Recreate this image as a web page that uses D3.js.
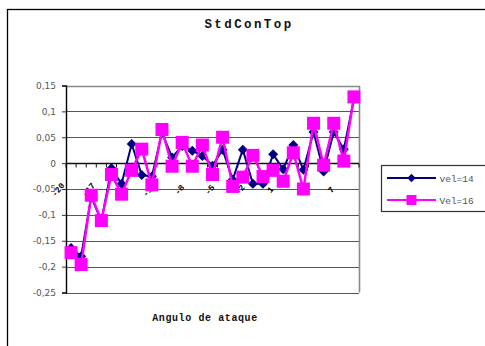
<!DOCTYPE html>
<html>
<head>
<meta charset="utf-8">
<script src="https://cdn.jsdelivr.net/npm/d3@7"></script>
<style>
  html, body { margin: 0; padding: 0; background: #fff; }
  svg { display: block; }
</style>
</head>
<body>
<svg id="chart" width="485" height="346"></svg>
<script>
// Angle of attack categories (degrees)
const angles = [-20, -19, -18, -17, -16, -15, -14, -13, -12, -11, -10, -9, -8, -7, -6,
                -5, -4, -3, -2, -1, 0, 1, 2, 3, 4, 5, 6, 7, 8];

// Std coefficient series
const vel14 = [-0.164, -0.180, -0.065, -0.112, -0.010, -0.040, 0.037, -0.023, -0.026, 0.059,
               0.011, 0.033, 0.024, 0.014, -0.005, 0.026, -0.032, 0.026, -0.040, -0.040,
               0.017, -0.012, 0.035, -0.013, 0.060, -0.016, 0.060, 0.027, 0.124];
const vel16 = [-0.173, -0.196, -0.062, -0.111, -0.022, -0.060, -0.014, 0.027, -0.042, 0.065,
               -0.006, 0.040, -0.006, 0.035, -0.022, 0.050, -0.045, -0.027, 0.015, -0.026,
               -0.014, -0.035, 0.020, -0.050, 0.077, -0.004, 0.077, 0.004, 0.128];

const yTicks = [0.15, 0.1, 0.05, 0, -0.05, -0.1, -0.15, -0.2, -0.25];
const seriesNames = ["vel=14", "Vel=16"];

const svg = d3.select("#chart");

const plot = { left: 66, right: 359, top: 85.5, bottom: 292.5 };

const x = d3.scaleBand().domain(angles).range([plot.left, plot.right]).paddingInner(0).paddingOuter(0);
const y = d3.scaleLinear().domain([-0.25, 0.15]).range([plot.bottom, plot.top]);

const locale = d3.formatLocale({ decimal: ",", thousands: ".", grouping: [3], currency: ["", ""], minus: "-" });
const fmt = locale.format(".2~f");

// Outer chart frame
svg.append("rect")
  .attr("x", 7.5).attr("y", 9.5)
  .attr("width", 480).attr("height", 400)
  .attr("fill", "#fff").attr("stroke", "#000").attr("stroke-width", 1.3);

// Title
svg.append("text")
  .attr("x", 249).attr("y", 27.5)
  .attr("text-anchor", "middle")
  .attr("font-family", "'Liberation Mono', 'Courier New', monospace")
  .attr("font-weight", "bold")
  .attr("font-size", 12.5)
  .attr("letter-spacing", 2.4)
  .attr("fill", "#111")
  .text("StdConTop");

// Horizontal gridlines
svg.append("g")
  .selectAll("line")
  .data(yTicks.filter(t => t !== 0.15))
  .join("line")
  .attr("x1", plot.left).attr("x2", plot.right)
  .attr("y1", d => Math.round(y(d)) + 0.5).attr("y2", d => Math.round(y(d)) + 0.5)
  .attr("stroke", "#555").attr("stroke-width", 1.2);

// Plot frame: top and right edges
svg.append("path")
  .attr("d", `M${plot.left},${Math.round(y(0.15)) + 0.5}H${plot.right + 0.5}V${plot.bottom}`)
  .attr("fill", "none").attr("stroke", "#8a8a8a").attr("stroke-width", 1.6);

// Y axis
const yAxis = d3.axisLeft(y).tickValues(yTicks).tickFormat(fmt).tickSize(4).tickPadding(6);
const gy = svg.append("g")
  .attr("transform", `translate(${plot.left},0)`)
  .call(yAxis);
gy.select(".domain").attr("stroke", "#000").attr("stroke-width", 1.4);
gy.selectAll(".tick line").attr("stroke", "#333");
gy.selectAll(".tick text")
  .attr("font-family", "'DejaVu Sans', Verdana, sans-serif")
  .attr("font-size", 9)
  .attr("fill", "#555");

// Category axis along zero
const y0 = Math.round(y(0)) + 0.5;
svg.append("line")
  .attr("x1", plot.left).attr("x2", plot.right)
  .attr("y1", y0).attr("y2", y0)
  .attr("stroke", "#111").attr("stroke-width", 1.3);
const boundaries = angles.map(a => x(a)).concat([x(angles[angles.length - 1]) + x.bandwidth()]);
svg.append("g")
  .selectAll("line")
  .data(boundaries)
  .join("line")
  .attr("x1", d => d).attr("x2", d => d)
  .attr("y1", y0).attr("y2", y0 + 4)
  .attr("stroke", "#111").attr("stroke-width", 1);

// Category labels, every third angle, rotated
svg.append("g")
  .selectAll("text")
  .data(angles.filter((a, i) => i % 3 === 0))
  .join("text")
  .attr("transform", d => `translate(${x(d) - 7.5},${y(-0.05) + 1}) rotate(-50)`)
  .attr("text-anchor", "middle")
  .attr("dominant-baseline", "middle")
  .attr("font-family", "'Liberation Mono', monospace")
  .attr("font-weight", "bold")
  .attr("font-size", 8.5)
  .attr("fill", "#000")
  .text(d => d);

// Axis title
svg.append("text")
  .attr("x", 205).attr("y", 321)
  .attr("text-anchor", "middle")
  .attr("font-family", "'Liberation Mono', 'Courier New', monospace")
  .attr("font-weight", "bold")
  .attr("font-size", 10)
  .attr("letter-spacing", 0.6)
  .attr("fill", "#111")
  .text("Angulo de ataque");

const cx = a => x(a) + x.bandwidth() / 2;
const line = vals => d3.line().x((d, i) => cx(angles[i])).y(d => y(d))(vals);

const navy = "#000080";
const magenta = "#ff00ff";

// vel=14 : navy line with diamonds
svg.append("path")
  .attr("d", line(vel14))
  .attr("fill", "none").attr("stroke", navy).attr("stroke-width", 2);
svg.append("g")
  .selectAll("path")
  .data(vel14)
  .join("path")
  .attr("d", d3.symbol(d3.symbolDiamond2, 64))
  .attr("transform", (d, i) => `translate(${cx(angles[i])},${y(d)})`)
  .attr("fill", navy);

// Vel=16 : magenta line with squares
svg.append("path")
  .attr("d", line(vel16))
  .attr("fill", "none").attr("stroke", magenta).attr("stroke-width", 2.5);
svg.append("g")
  .selectAll("rect")
  .data(vel16)
  .join("rect")
  .attr("x", (d, i) => cx(angles[i]) - 6.5)
  .attr("y", d => y(d) - 6.5)
  .attr("width", 13).attr("height", 13)
  .attr("fill", magenta);

// Legend
const lg = svg.append("g").attr("transform", "translate(381.5,165.5)");
lg.append("rect")
  .attr("width", 110).attr("height", 46)
  .attr("fill", "#fff").attr("stroke", "#333").attr("stroke-width", 1.2);
const rows = [
  { name: seriesNames[0], color: navy, shape: "diamond", yy: 12.5 },
  { name: seriesNames[1], color: magenta, shape: "square", yy: 34.5 }
];
rows.forEach(r => {
  lg.append("line")
    .attr("x1", 5.5).attr("x2", 54.5)
    .attr("y1", r.yy).attr("y2", r.yy)
    .attr("stroke", r.color).attr("stroke-width", 2);
  if (r.shape === "diamond") {
    lg.append("path")
      .attr("d", d3.symbol(d3.symbolDiamond2, 44))
      .attr("transform", `translate(30,${r.yy})`)
      .attr("fill", r.color);
  } else {
    lg.append("rect")
      .attr("x", 25).attr("y", r.yy - 5)
      .attr("width", 10).attr("height", 10)
      .attr("fill", r.color);
  }
  lg.append("text")
    .attr("x", 58).attr("y", r.yy + 3.5)
    .attr("font-family", "'Liberation Mono', 'Courier New', monospace")
    .attr("font-size", 9.5)
    .attr("fill", "#555")
    .text(r.name);
});
</script>
</body>
</html>
